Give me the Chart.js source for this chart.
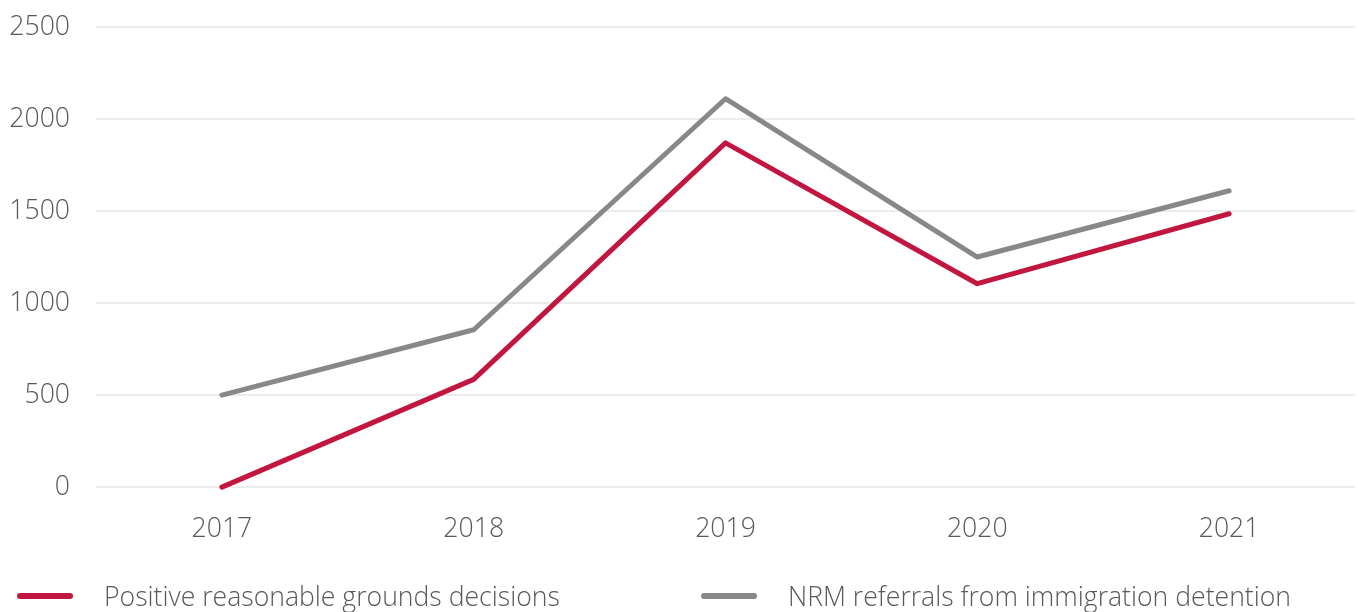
<!DOCTYPE html>
<html>
<head>
<meta charset="utf-8">
<script src="https://cdn.jsdelivr.net/npm/chart.js@4"></script>
<style>
  body { margin: 0; background: #fff; }
  #wrap { position: relative; width: 1358px; height: 612px; overflow: hidden; }
  #chartBox { position: absolute; left: 0; top: -15px; width: 1358px; height: 596px; }
  .legend-item { position: absolute; top: 578px; height: 36px; display: flex; align-items: center;
    font-family: "Open Sans", sans-serif; font-weight: 300; font-size: 26.6px; color: #595959; white-space: nowrap; }
  .swatch { width: 56px; height: 6px; border-radius: 3px; margin-right: 31px; }
</style>
</head>
<body>
<div id="wrap">
  <div id="chartBox"><canvas id="chart"></canvas></div>
  <div id="legend"></div>
</div>
<script>
// Categories and series
const years = ['2017', '2018', '2019', '2020', '2021'];
const positiveDecisions = [0, 585, 1870, 1105, 1485];
const nrmReferrals = [500, 855, 2110, 1250, 1610];
const yTicks = [0, 500, 1000, 1500, 2000, 2500];

const RED = '#c1163f';
const GREY = '#888888';
const TEXT = '#595959';
const FONT = { family: 'Open Sans', size: 26.6, weight: 300 };

const datasets = [
    { label: 'Positive reasonable grounds decisions', data: positiveDecisions, borderColor: RED },
    { label: 'NRM referrals from immigration detention', data: nrmReferrals, borderColor: GREY }
].map(d => Object.assign(d, {
    borderWidth: 5,
    borderCapStyle: 'round',
    borderJoinStyle: 'round',
    pointRadius: 0,
    tension: 0,
    fill: false,
    clip: false
}));

const ctx = document.getElementById('chart').getContext('2d');
new Chart(ctx, {
    type: 'line',
    data: { labels: years, datasets: datasets },
    options: {
        responsive: true,
        maintainAspectRatio: false,
        animation: false,
        layout: { padding: { left: 0, right: 3, top: 10, bottom: 18 } },
        plugins: { legend: { display: false }, tooltip: { enabled: false } },
        scales: {
            x: {
                offset: true,
                grid: { display: false },
                border: { display: false },
                ticks: { color: TEXT, font: FONT, padding: 18, maxRotation: 0 }
            },
            y: {
                min: 0,
                max: 2500,
                afterBuildTicks: axis => { axis.ticks = yTicks.map(v => ({ value: v })); },
                afterFit: axis => { axis.width = 96; },
                grid: { color: '#ececec', lineWidth: 2, drawTicks: false },
                border: { display: false },
                ticks: { color: TEXT, font: FONT, padding: 26, callback: v => String(v) }
            }
        }
    }
});

// Legend drawn as HTML under the chart
const legend = document.getElementById('legend');
const legendLeft = [17, 701];
datasets.forEach((d, i) => {
    const item = document.createElement('div');
    item.className = 'legend-item';
    item.style.left = legendLeft[i] + 'px';
    item.innerHTML = `<span class="swatch" style="background:${d.borderColor}"></span><span>${d.label}</span>`;
    legend.appendChild(item);
});
</script>
</body>
</html>
